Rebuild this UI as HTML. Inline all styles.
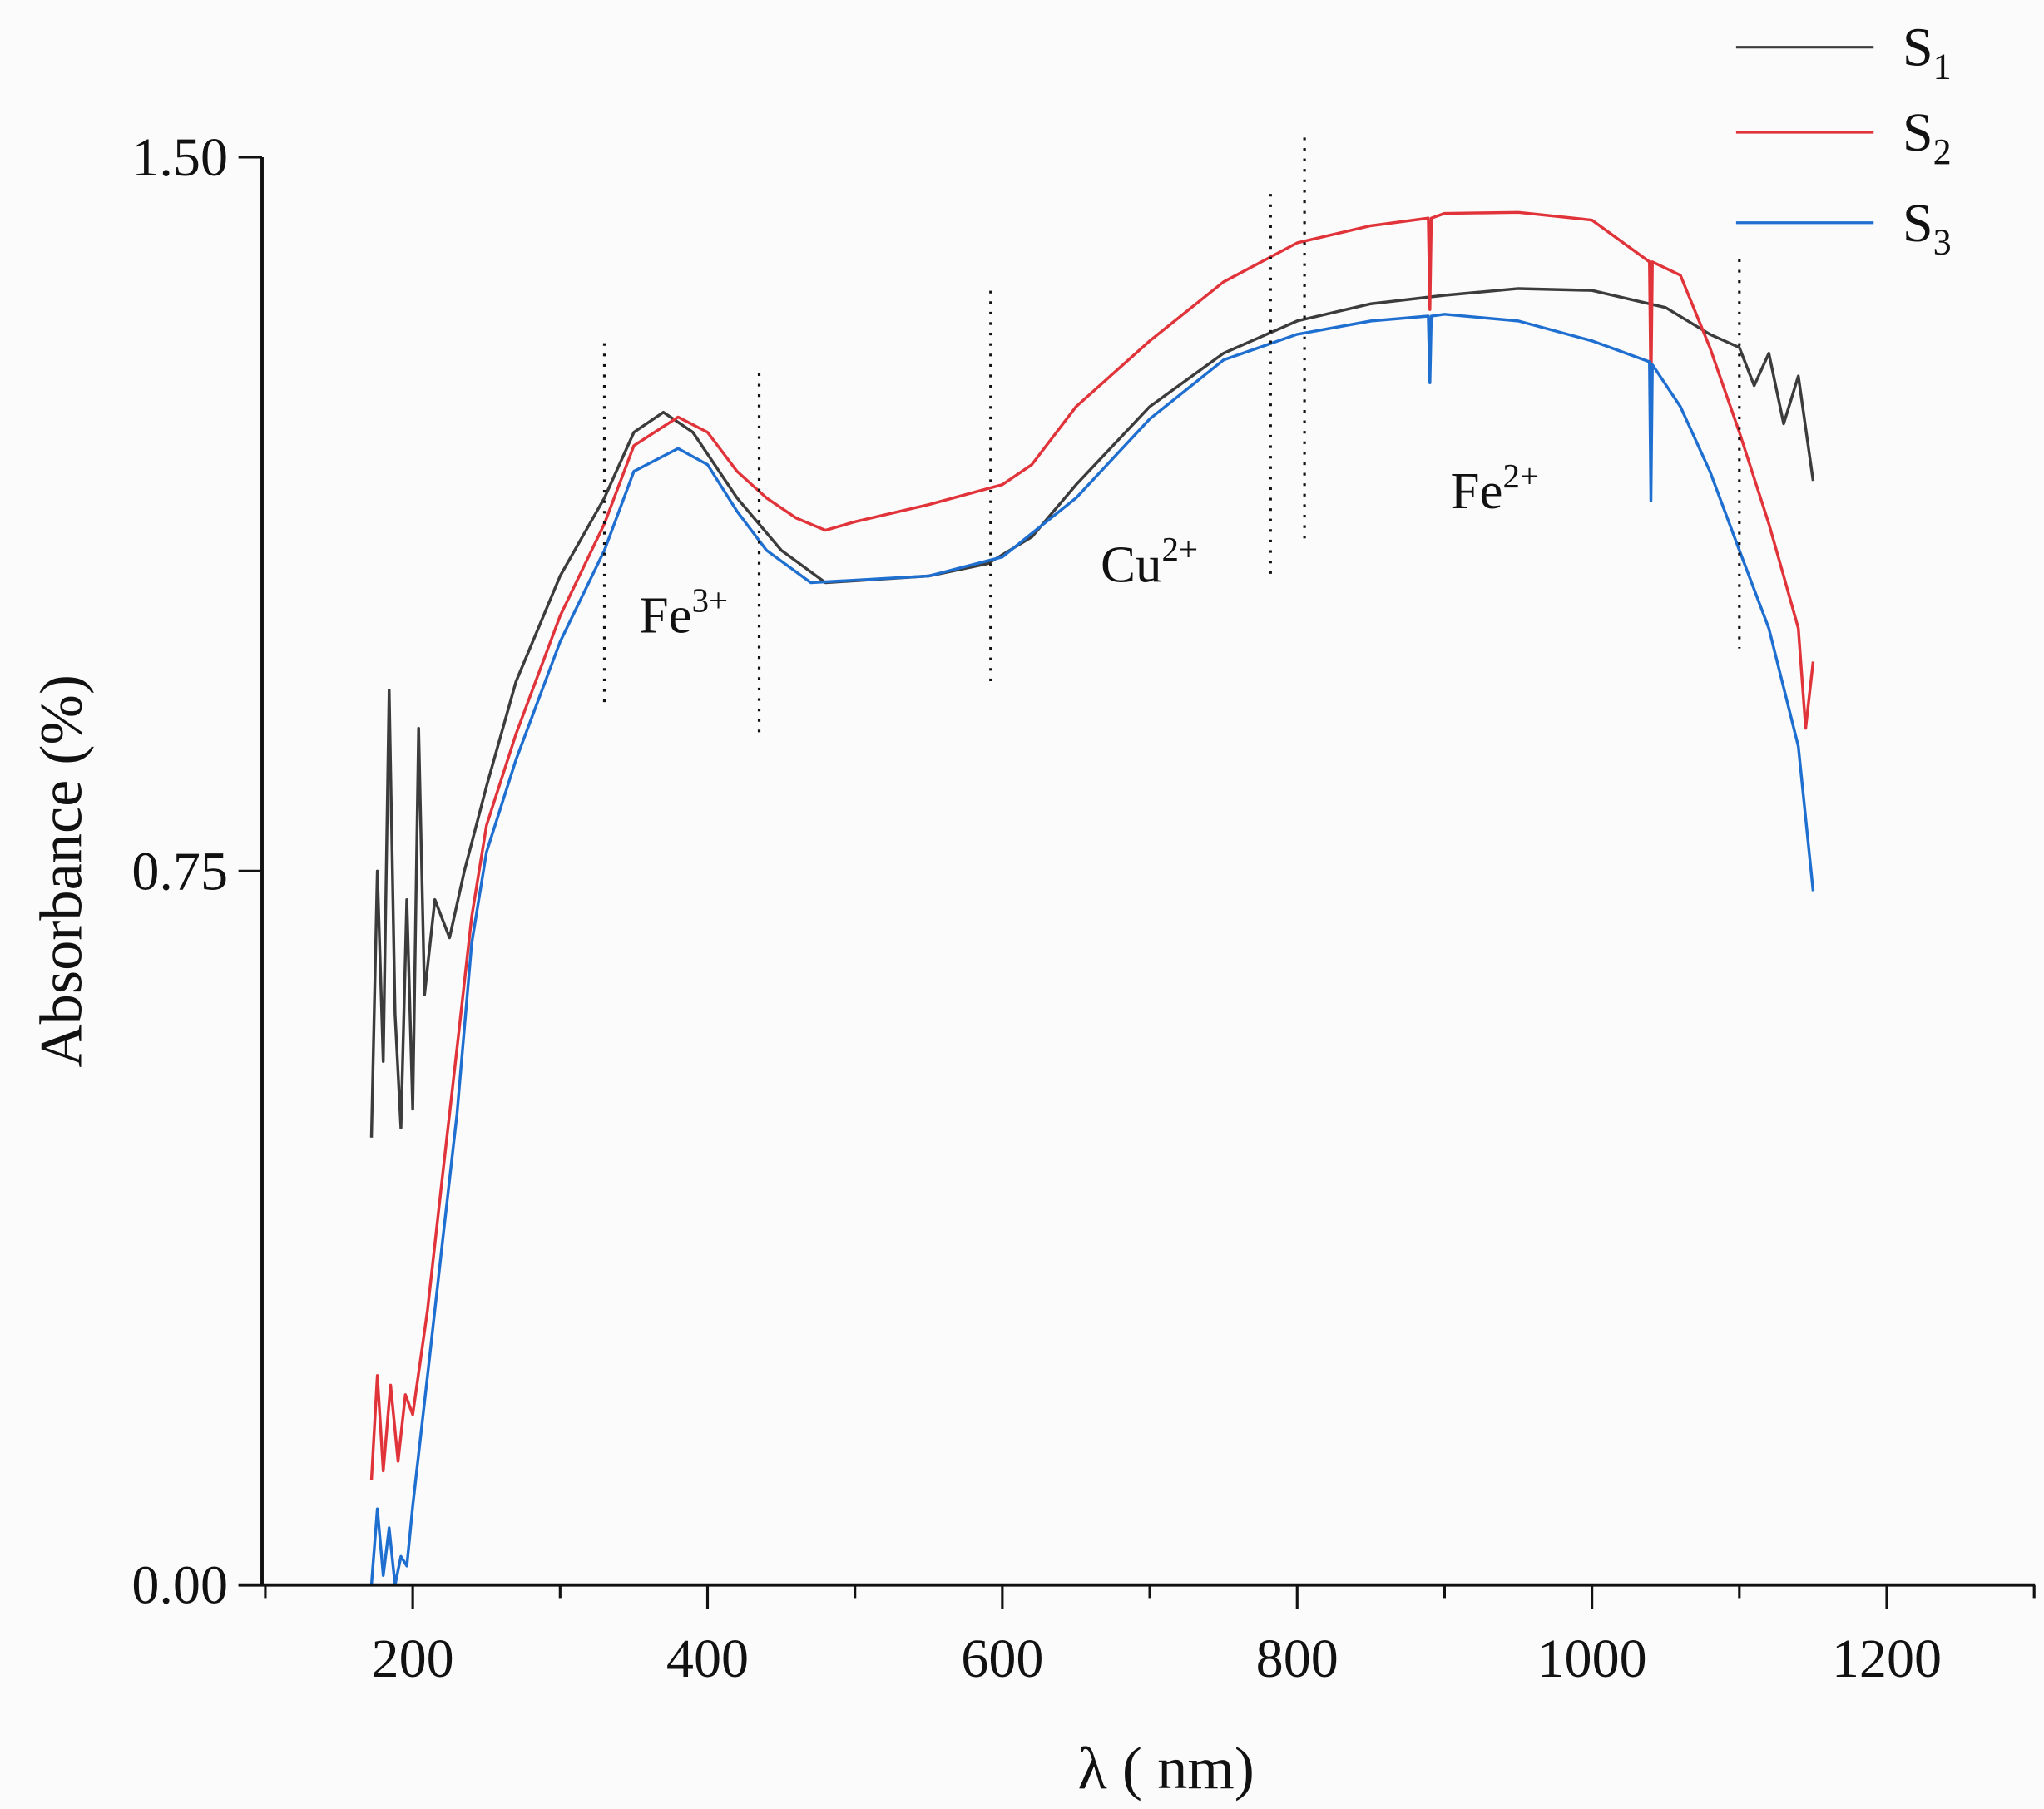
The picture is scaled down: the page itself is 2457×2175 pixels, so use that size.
<!DOCTYPE html>
<html><head><meta charset="utf-8"><style>
html,body{margin:0;padding:0;background:#fbfbfb;}
svg{display:block;font-family:"Liberation Serif",serif;}
</style></head><body>
<svg id="chart" width="2457" height="2175" viewBox="0 0 1560 1381" preserveAspectRatio="none" xmlns="http://www.w3.org/2000/svg">
<rect width="1560" height="1381" fill="#fbfbfb"/>
<g id="marks"></g>
<g id="axes"></g>
</svg>
<script>
const xTicks = [200, 400, 600, 800, 1000, 1200];
const xMinor = [100, 300, 500, 700, 900, 1100, 1300];
const yTicks = [0, 0.75, 1.5];
const yTickLabels = ["0.00", "0.75", "1.50"];
const s1X = [172,176,180,184,188,192,196,200,204,208,215,225,235,250,270,300,330,350,370,390,420,450,480,550,590,620,650,700,750,800,850,900,950,1000,1050,1080,1100,1110,1120,1130,1140,1150];
const s1Y = [0.47,0.75,0.55,0.94,0.6,0.48,0.72,0.5,0.9,0.62,0.72,0.68,0.75,0.839,0.949,1.060,1.142,1.211,1.232,1.211,1.142,1.087,1.053,1.060,1.073,1.101,1.156,1.238,1.294,1.328,1.346,1.355,1.362,1.360,1.342,1.314,1.300,1.26,1.294,1.22,1.27,1.16];
const s2X = [172,176,180,185,190,195,200,210,220,230,240,250,270,300,330,350,380,400,420,440,460,480,500,550,600,620,650,700,750,800,850,889,890,891,900,950,1000,1039,1040,1041,1060,1080,1100,1120,1130,1140,1145,1150];
const s2Y = [0.11,0.22,0.12,0.21,0.13,0.2,0.179,0.289,0.427,0.564,0.702,0.798,0.894,1.018,1.115,1.197,1.227,1.211,1.170,1.142,1.121,1.108,1.117,1.135,1.156,1.177,1.238,1.307,1.369,1.410,1.428,1.436,1.34,1.436,1.441,1.442,1.434,1.39,1.252,1.39,1.376,1.300,1.211,1.115,1.06,1.005,0.9,0.97];
const s3X = [172,176,180,184,188,192,196,200,210,220,230,240,250,270,300,330,350,380,400,420,440,470,550,600,650,700,750,800,850,889,890,891,900,950,1000,1039,1040,1041,1060,1080,1100,1120,1140,1150];
const s3Y = [0.0,0.08,0.01,0.06,0.0,0.03,0.02,0.083,0.220,0.358,0.495,0.674,0.770,0.867,0.991,1.087,1.170,1.194,1.177,1.128,1.087,1.053,1.060,1.080,1.142,1.225,1.287,1.314,1.328,1.333,1.263,1.333,1.335,1.328,1.307,1.285,1.139,1.282,1.238,1.170,1.087,1.005,0.881,0.729];
const markers = [[330,262,540],[435,285,562],[592,222,520],[782,148,440],[805,105,415],[1100,198,495]];

const X = v => 202.5 + (v - 100) * 1.125;
const Y = v => 1210 - v * 726.67;
const NS = "http://www.w3.org/2000/svg";
function mk(tag, attrs, parent){const e=document.createElementNS(NS,tag);for(const k in attrs)e.setAttribute(k,attrs[k]);parent.appendChild(e);return e;}
const marks=document.getElementById('marks'), axes=document.getElementById('axes');

function series(xs, ys, color, name){
  const p = mk('polyline',{points:xs.map((x,i)=>X(x).toFixed(1)+','+Y(ys[i]).toFixed(1)).join(' '),fill:'none',stroke:color,'stroke-width':2.2,'stroke-linejoin':'round'},marks);
  
  
}
series(s1X,s1Y,'#3c3c3c','series-s1-line');
series(s2X,s2Y,'#e0343a','series-s2-line');
series(s3X,s3Y,'#1f6fd0','series-s3-line');

markers.forEach(m=>{
  const l=mk('line',{x1:X(m[0]),x2:X(m[0]),y1:m[1],y2:m[2],stroke:'#111','stroke-width':2,'stroke-dasharray':'2,6'},marks);
  
  
});

let a=mk('line',{x1:200,x2:200,y1:120,y2:1211,stroke:'#111','stroke-width':2.5},axes);


a=mk('line',{x1:182,x2:1553,y1:1210,y2:1210,stroke:'#111','stroke-width':2.5},axes);


xTicks.forEach(t=>{
  const l=mk('line',{x1:X(t),x2:X(t),y1:1210,y2:1228,stroke:'#111','stroke-width':2},axes);
  
  
  const tx=mk('text',{x:X(t),y:1280,'text-anchor':'middle','font-size':42,fill:'#111'},axes);
  tx.textContent=t;
  
  
});
xMinor.forEach(t=>{
  const l=mk('line',{x1:X(t),x2:X(t),y1:1210,y2:1220,stroke:'#111','stroke-width':2},axes);
  
  
});
yTicks.forEach((t,i)=>{
  const l=mk('line',{x1:182,x2:200,y1:Y(t),y2:Y(t),stroke:'#111','stroke-width':2},axes);
  
  
  const tx=mk('text',{x:174,y:Y(t)+14,'text-anchor':'end','font-size':42,fill:'#111'},axes);
  tx.textContent=yTickLabels[i];
  
  
});
</script>
<script>
(function(){
const NS="http://www.w3.org/2000/svg", svg=document.getElementById('chart');
function t(x,y,size,html,name,extra){const e=document.createElementNS(NS,'text');e.setAttribute('x',x);e.setAttribute('y',y);e.setAttribute('font-size',size);e.setAttribute('fill','#111');if(extra)for(const k in extra)e.setAttribute(k,extra[k]);e.innerHTML=html;svg.appendChild(e);


return e;}
t(890,1365,46,'λ ( nm)','x-axis-title',{'text-anchor':'middle'});
t(62,665,46,'Absorbance (%)','y-axis-title',{'text-anchor':'middle',transform:'rotate(-90 62 665)'});
t(488,483,40,'Fe<tspan font-size="26" dy="-16">3+</tspan>','fe3-label');
t(840,444,40,'Cu<tspan font-size="26" dy="-16">2+</tspan>','cu2-label');
t(1107,388,40,'Fe<tspan font-size="26" dy="-16">2+</tspan>','fe2-label');
const cols=['#3c3c3c','#e0343a','#1f6fd0'], ys=[36,101,170];
ys.forEach((y,i)=>{
 const l=document.createElementNS(NS,'line');l.setAttribute('x1',1325);l.setAttribute('x2',1430);l.setAttribute('y1',y);l.setAttribute('y2',y);l.setAttribute('stroke',cols[i]);l.setAttribute('stroke-width',2);svg.appendChild(l);
 
 
 t(1452,y+14,42,'S<tspan font-size="28" dy="10">'+(i+1)+'</tspan>','legend-entry-s'+(i+1));
});
})();
</script>
</body></html>
